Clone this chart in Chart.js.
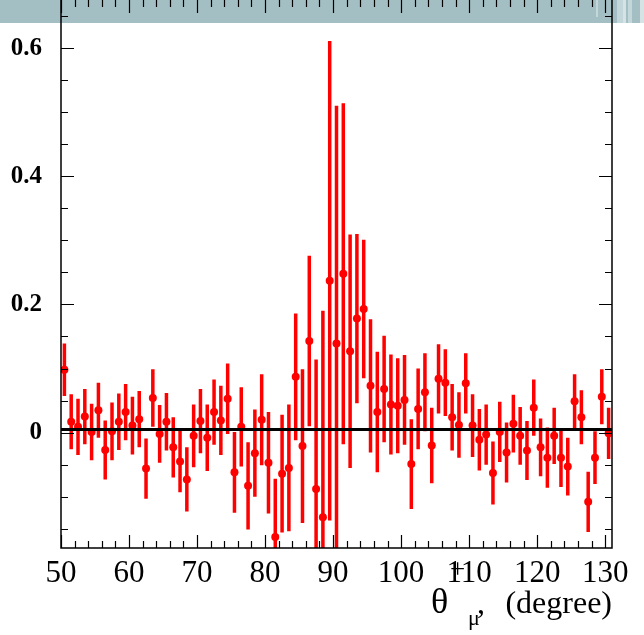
<!DOCTYPE html>
<html>
<head>
<meta charset="utf-8">
<script src="https://cdn.jsdelivr.net/npm/chart.js@4.4.1/dist/chart.umd.min.js"></script>
<style>
  html, body { margin: 0; padding: 0; background: #fff; }
  #wrap { width: 644px; height: 635px; }
</style>
</head>
<body>
<div id="wrap"><canvas id="thetaChart"></canvas></div>
<script>
// bin centres (degree)
const angles = [
  50.5, 51.5, 52.5, 53.5, 54.5, 55.5, 56.5, 57.5, 58.5, 59.5,
  60.5, 61.5, 62.5, 63.5, 64.5, 65.5, 66.5, 67.5, 68.5, 69.5,
  70.5, 71.5, 72.5, 73.5, 74.5, 75.5, 76.5, 77.5, 78.5, 79.5,
  80.5, 81.5, 82.5, 83.5, 84.5, 85.5, 86.5, 87.5, 88.5, 89.5,
  90.5, 91.5, 92.5, 93.5, 94.5, 95.5, 96.5, 97.5, 98.5, 99.5,
  100.5, 101.5, 102.5, 103.5, 104.5, 105.5, 106.5, 107.5, 108.5, 109.5,
  110.5, 111.5, 112.5, 113.5, 114.5, 115.5, 116.5, 117.5, 118.5, 119.5,
  120.5, 121.5, 122.5, 123.5, 124.5, 125.5, 126.5, 127.5, 128.5, 129.5,
  130.5
];
const values = [
  0.098, 0.017, 0.009, 0.025, 0.001, 0.035, -0.027, 0.002, 0.017, 0.032,
  0.011, 0.021, -0.056, 0.054, -0.002, 0.017, -0.023, -0.045, -0.073, -0.005,
  0.018, -0.008, 0.032, 0.019, 0.053, -0.062, 0.009, -0.083, -0.032, 0.020,
  -0.047, -0.163, -0.064, -0.055, 0.087, -0.021, 0.143, -0.088, -0.132, 0.237,
  0.139, 0.248, 0.127, 0.178, 0.193, 0.073, 0.032, 0.068, 0.044, 0.042,
  0.051, -0.049, 0.037, 0.063, -0.020, 0.084, 0.078, 0.024, 0.012, 0.077,
  0.011, -0.011, -0.003, -0.063, 0.001, -0.031, 0.014, -0.005, -0.028, 0.039,
  -0.023, -0.039, -0.005, -0.039, -0.053, 0.049, 0.024, -0.108, -0.039, 0.056,
  -0.001
];
const errors = [
  0.041, 0.043, 0.044, 0.043, 0.044, 0.043, 0.046, 0.045, 0.044, 0.044,
  0.045, 0.044, 0.047, 0.045, 0.045, 0.045, 0.047, 0.048, 0.050, 0.049,
  0.050, 0.052, 0.051, 0.054, 0.055, 0.063, 0.062, 0.068, 0.068, 0.071,
  0.079, 0.091, 0.092, 0.099, 0.099, 0.120, 0.133, 0.202, 0.322, 0.374,
  0.371, 0.266, 0.182, 0.132, 0.108, 0.104, 0.094, 0.083, 0.078, 0.074,
  0.070, 0.070, 0.063, 0.061, 0.059, 0.054, 0.052, 0.052, 0.051, 0.047,
  0.049, 0.048, 0.047, 0.049, 0.047, 0.047, 0.045, 0.045, 0.046, 0.044,
  0.045, 0.047, 0.044, 0.046, 0.045, 0.042, 0.042, 0.047, 0.041, 0.043,
  0.040
];
const fitLevel = 0.005;
const xTickLabels = [50, 60, 70, 80, 90, 100, 110, 120, 130];
const yTickLabels = [0, 0.2, 0.4, 0.6];

const pointData = angles.map((a, i) => ({ x: a, y: values[i] }));
const barData = angles.flatMap((a, i) => [
  { x: a, y: values[i] - errors[i] },
  { x: a, y: values[i] + errors[i] },
  { x: a, y: null }
]);

// ROOT style frame, inner ticks, title band and axis title
const rootFrame = {
  id: 'rootFrame',
  afterDraw(chart) {
    const { ctx, chartArea: { left, right, top, bottom }, scales: { x, y } } = chart;
    ctx.save();
    // grey band at the top
    ctx.fillStyle = '#a4bfc3';
    ctx.fillRect(0, 0, chart.width, 23);
    ctx.fillStyle = '#c3d6d9';
    ctx.fillRect(596, 0, 2, 17);
    ctx.fillRect(617, 0, 6, 23);
    ctx.fillRect(628, 0, 4, 23);
    ctx.fillStyle = '#d6e3e5';
    ctx.fillRect(623, 0, 3, 23);
    ctx.fillRect(640, 0, 4, 23);

    ctx.strokeStyle = '#000';
    ctx.lineWidth = 1.5;
    ctx.beginPath();
    ctx.moveTo(left, top); ctx.lineTo(left, bottom);
    ctx.lineTo(right, bottom); ctx.lineTo(right, top);
    ctx.stroke();

    ctx.lineWidth = 1.2;
    ctx.beginPath();
    for (let v = 50; v <= 130; v += 2) {
      const px = Math.round(x.getPixelForValue(v)) + 0.5;
      const len = v % 10 === 0 ? 13 : 7;
      ctx.moveTo(px, bottom); ctx.lineTo(px, bottom - len);
      ctx.moveTo(px, top); ctx.lineTo(px, top + len);
    }
    for (let k = -3; k <= 13; k++) {
      const py = Math.round(y.getPixelForValue(k * 0.05)) + 0.5;
      const len = k % 4 === 0 ? 13 : 7;
      ctx.moveTo(left, py); ctx.lineTo(left + len, py);
      ctx.moveTo(right, py); ctx.lineTo(right - len, py);
    }
    ctx.stroke();

    // x axis title
    ctx.fillStyle = '#000';
    ctx.textBaseline = 'alphabetic';
    ctx.textAlign = 'left';
    ctx.font = '36px "Liberation Serif"';
    ctx.fillText('θ', 431, 613);
    ctx.font = '32px "Liberation Serif"';
    ctx.fillText(',', 477, 613);
    ctx.font = '27px "Liberation Serif"';
    ctx.fillText('+', 450, 578);
    ctx.font = '22px "Liberation Serif"';
    ctx.fillText('μ', 468, 625);
    ctx.font = '32px "Liberation Serif"';
    ctx.textAlign = 'right';
    ctx.fillText('(degree)', right, 613);
    ctx.restore();
  }
};

const ctx = document.getElementById('thetaChart').getContext('2d');
const thetaChart = new Chart(ctx, {
  type: 'scatter',
  data: {
    datasets: [{
      data: [{ x: 50, y: fitLevel }, { x: 131, y: fitLevel }],
      showLine: true,
      borderColor: '#000',
      borderWidth: 3,
      pointRadius: 0,
      clip: 0
    }, {
      data: pointData,
      showLine: false,
      backgroundColor: '#ff0000',
      borderWidth: 0,
      pointRadius: 4,
      clip: 0
    }, {
      data: barData,
      showLine: true,
      spanGaps: false,
      borderColor: '#ff0000',
      borderWidth: 3.5,
      pointRadius: 0,
      clip: 0
    }]
  },
  options: {
    responsive: true,
    maintainAspectRatio: false,
    animation: false,
    layout: { autoPadding: false, padding: { top: 0, right: 32, bottom: 0, left: 0 } },
    plugins: {
      legend: { display: false },
      tooltip: { enabled: false }
    },
    scales: {
      x: {
        type: 'linear',
        min: 50,
        max: 131,
        grid: { display: false, drawTicks: false },
        border: { display: false },
        afterBuildTicks: s => { s.ticks = xTickLabels.map(v => ({ value: v })); },
        afterFit: s => { s.height = 87; s.paddingLeft = 0; s.paddingRight = 0; },
        ticks: {
          autoSkip: false,
          maxRotation: 0,
          padding: 7,
          color: '#000',
          font: { family: '"Liberation Serif"', size: 31 },
          callback: v => String(v)
        }
      },
      y: {
        type: 'linear',
        min: -0.18,
        max: 0.675,
        grid: { display: false, drawTicks: false },
        border: { display: false },
        afterBuildTicks: s => { s.ticks = yTickLabels.map(v => ({ value: v })); },
        afterFit: s => { s.width = 61; s.paddingTop = 0; s.paddingBottom = 0; },
        ticks: {
          padding: 19,
          color: '#000',
          font: { family: '"Liberation Serif"', size: 25, weight: 'bold' },
          callback: v => String(v)
        }
      }
    }
  },
  plugins: [rootFrame]
});
</script>
</body>
</html>
